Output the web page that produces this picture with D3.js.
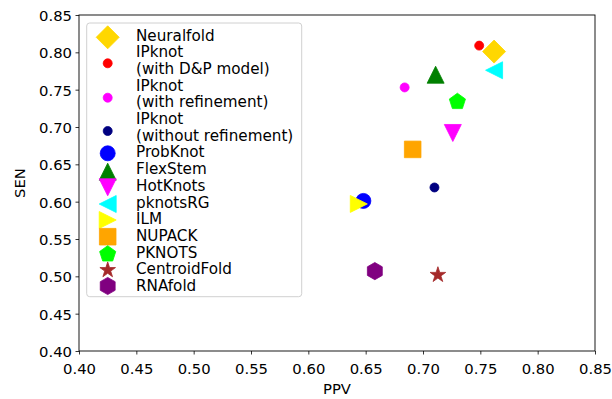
<!DOCTYPE html>
<html><head><meta charset="utf-8">
<script src="https://cdn.jsdelivr.net/npm/d3@7"></script>
<style>body{margin:0;background:#fff}svg{display:block}text{font-family:"DejaVu Sans",sans-serif;fill:#000}</style>
</head><body><svg id="c" width="612" height="399"></svg>
<script>
const methods = ["Neuralfold","IPknot\n(with D&P model)","IPknot\n(with refinement)","IPknot\n(without refinement)","ProbKnot","FlexStem","HotKnots","pknotsRG","ILM","NUPACK","PKNOTS","CentroidFold","RNAfold"];
const ppv = [0.762,0.749,0.684,0.710,0.648,0.711,0.726,0.762,0.644,0.691,0.730,0.713,0.658];
const sen = [0.801,0.809,0.753,0.619,0.601,0.770,0.692,0.776,0.597,0.670,0.735,0.503,0.507];
const xTicks = [0.40,0.45,0.50,0.55,0.60,0.65,0.70,0.75,0.80,0.85];
const yTicks = [0.40,0.45,0.50,0.55,0.60,0.65,0.70,0.75,0.80,0.85];

// styles (kept apart from data)
const styles = [
  {shape:"diamond", color:"#FFD700", r:11.5},
  {shape:"circle", color:"#FF0000", r:4.5},
  {shape:"circle", color:"#FF00FF", r:4.5},
  {shape:"circle", color:"#000080", r:4.5},
  {shape:"circle", color:"#0000FF", r:7.5},
  {shape:"tri-up", color:"#008000", r:8.5},
  {shape:"tri-down", color:"#FF00FF", r:8.5},
  {shape:"tri-left", color:"#00FFFF", r:8.5},
  {shape:"tri-right", color:"#FFFF00", r:8.5},
  {shape:"square", color:"#FFA500", r:8.3},
  {shape:"pentagon", color:"#00FF00", r:8.5},
  {shape:"star", color:"#A52A2A", r:8.2},
  {shape:"hexagon", color:"#800080", r:8.6}
];
const legendMarkerY = [37.3,63.3,97.7,131,153.3,171.7,187.3,204,220,236.7,253.3,269.3,286];

function poly(pts){return "M"+pts.map(p=>p[0].toFixed(2)+","+p[1].toFixed(2)).join("L")+"Z";}
function regular(n, r, rot){const a=[];for(let i=0;i<n;i++){const t=rot+i*2*Math.PI/n;a.push([r*Math.sin(t),-r*Math.cos(t)]);}return a;}
function markerPath(s){
  const r=s.r;
  switch(s.shape){
    case "circle": return d3.arc()({innerRadius:0,outerRadius:r,startAngle:0,endAngle:2*Math.PI});
    case "diamond": return poly([[0,-r],[r,0],[0,r],[-r,0]]);
    case "tri-up": return poly([[0,-r],[-r,r],[r,r]]);
    case "tri-down": return poly([[0,r],[-r,-r],[r,-r]]);
    case "tri-left": return poly([[-r,0],[r,-r],[r,r]]);
    case "tri-right": return poly([[r,0],[-r,-r],[-r,r]]);
    case "square": return poly([[-r,-r],[r,-r],[r,r],[-r,r]]);
    case "pentagon": return poly(regular(5,r,0).map(p=>[p[0],p[1]+r*0.1]));
    case "hexagon": return poly(regular(6,r,0));
    case "star": {const a=[];for(let i=0;i<10;i++){const rr=i%2?r*0.381966:r;const t=i*Math.PI/5;a.push([rr*Math.sin(t),-rr*Math.cos(t)+r*0.1]);}return poly(a);}
  }
}

const svg=d3.select("#c");
const L=79,R=595,T=15,B=351;
const x=d3.scaleLinear().domain([0.40,0.85]).range([L,R]);
const y=d3.scaleLinear().domain([0.40,0.85]).range([B,T]);
const fs=14.8, lfs=15.2;

// axes
const xa=svg.append("g").attr("transform",`translate(0,${B})`)
  .call(d3.axisBottom(x).tickValues(xTicks).tickFormat(d3.format(".2f")).tickSize(3.5).tickPadding(3.5));
const ya=svg.append("g").attr("transform",`translate(${L},0)`)
  .call(d3.axisLeft(y).tickValues(yTicks).tickFormat(d3.format(".2f")).tickSize(3.5).tickPadding(3.5));
[xa,ya].forEach(g=>{g.select(".domain").remove();g.selectAll("line").attr("stroke","#000").attr("stroke-width",0.8);
  g.selectAll("text").attr("font-size",fs).attr("font-family","DejaVu Sans").attr("fill","#000");});
xa.selectAll("text").attr("dy","15.6px");
ya.selectAll("text").attr("dy","5.6px");

// points
const pts=methods.map((m,i)=>({m,px:ppv[i],py:sen[i],s:styles[i]}));
svg.append("g").selectAll("path").data(pts).join("path")
  .attr("transform",d=>`translate(${x(d.px)},${y(d.py)})`)
  .attr("d",d=>markerPath(d.s)).attr("fill",d=>d.s.color)
  .attr("stroke",d=>d.s.color).attr("stroke-width",0.8);

// frame
svg.append("rect").attr("x",L).attr("y",T).attr("width",R-L).attr("height",B-T)
  .attr("fill","none").attr("stroke","#000").attr("stroke-width",0.9);

// axis labels
svg.append("text").attr("x",(L+R)/2).attr("y",394).attr("text-anchor","middle").attr("font-size",fs).text("PPV");
svg.append("text").attr("transform",`translate(25,${(T+B)/2}) rotate(-90)`).attr("text-anchor","middle").attr("font-size",fs).text("SEN");

// legend
const lg=svg.append("g");
lg.append("rect").attr("x",86.7).attr("y",23).attr("width",215).attr("height",273.7).attr("rx",3)
  .attr("fill","#fff").attr("fill-opacity",0.8).attr("stroke","#d0d0d0").attr("stroke-width",1);
let lineY=40.7; const lh=16.68;
pts.forEach((d,i)=>{
  lg.append("path").attr("transform",`translate(107.7,${legendMarkerY[i]})`).attr("d",markerPath(d.s))
    .attr("fill",d.s.color).attr("stroke",d.s.color).attr("stroke-width",0.8);
  const lines=d.m.split("\n");
  const t=lg.append("text").attr("x",136).attr("font-size",lfs);
  lines.forEach(l=>{t.append("tspan").attr("x",136).attr("y",lineY).text(l);lineY+=lh;});
});
</script></body></html>
